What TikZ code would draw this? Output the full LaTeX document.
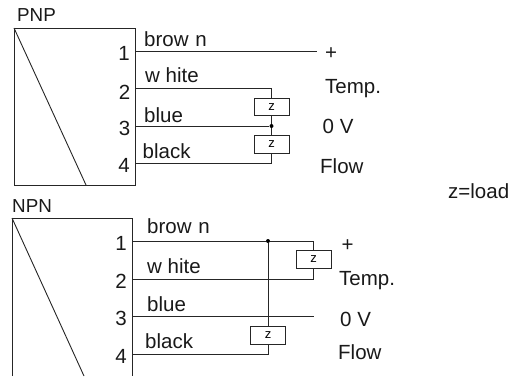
\documentclass[tikz,border=0pt]{standalone}
\usepackage{fontspec}
\setmainfont{Liberation Sans}
\tikzset{
  wire/.style={draw=black!85,line width=0.9pt},
  load/.style={draw=black!85,fill=white,line width=0.9pt,rectangle,minimum width=35pt,minimum height=17.5pt,inner sep=0pt,font=\fontsize{13}{13}\selectfont},
  lab/.style={anchor=west,inner sep=0pt,font=\fontsize{20.5}{20.5}\selectfont,text=black!90},
  title/.style={anchor=west,inner sep=0pt,font=\fontsize{18.8}{18.8}\selectfont,text=black!90},
  pin/.style={anchor=east,inner sep=0pt,font=\fontsize{20.5}{20.5}\selectfont,text=black!90},
  dot/.style={circle,fill=black,inner sep=0pt,minimum size=4pt},
}
\begin{document}
\begin{tikzpicture}[x=1pt,y=-1pt]
\useasboundingbox (0,0) rectangle (512,376);
% PNP
\coordinate (a1) at (14,28); \coordinate (a2) at (135,28); \coordinate (a3) at (135,185); \coordinate (a4) at (14,185); \coordinate (a5) at (86,185);
\draw[wire] (a1) -- (a2) -- (a3) -- (a4) -- cycle;
\draw[wire] (a1) -- (a5);
\node[title] (pnpt) at (17,15) {PNP};
\coordinate (p1) at (135,51); \coordinate (p2) at (135,88.5); \coordinate (p3) at (135,126); \coordinate (p4) at (135,163.5);
\coordinate (p1e) at (317,51); \coordinate (p2e) at (271.5,88.5); \coordinate (p4e) at (271.5,163.5);
\node[dot] (pd) at (271.5,126) {};
\node[load] (pz1) at (271.5,107) {z};
\node[load] (pz2) at (271.5,144.5) {z};
\draw[wire] (p1) -- (p1e);
\draw[wire] (p2) -- (p2e) -- (pz1.north);
\draw[wire] (pz1.south) -- (pd) -- (pz2.north);
\draw[wire] (p3) -- (pd);
\draw[wire] (pz2.south) -- (p4e) -- (p4);
\node[pin] (pn1) at (130,53) {1};
\node[pin] (pn2) at (130.5,92) {2};
\node[pin] (pn3) at (130.5,128) {3};
\node[pin] (pn4) at (130,165) {4};
\node[lab] (pl1) at (144,39) {brow\kern1pt\ n};
\node[lab] (pl2) at (145,75) {w hite};
\node[lab] (pl3) at (144,115) {blue};
\node[lab] (pl4) at (142.5,151) {black};
\node[lab] (pplus) at (325,54) {+};
\node[lab] (ptemp) at (325,89) {Temp.};
\node[lab] (p0v) at (322.5,126) {0 V};
\node[lab] (pflow) at (320,166) {Flow};
\node[lab] (zl) at (448,191) {z=load};
% NPN
\coordinate (b1) at (12,218); \coordinate (b2) at (132,218); \coordinate (b3) at (132,376); \coordinate (b4) at (12,376); \coordinate (b5) at (84,376);
\draw[wire] (b4) -- (b1) -- (b2) -- (b3);
\draw[wire] (b1) -- (b5);
\node[title] (npnt) at (12,206) {NPN};
\coordinate (n1) at (132,241); \coordinate (n2) at (132,279); \coordinate (n3) at (132,316.5); \coordinate (n4) at (132,354);
\coordinate (n1e) at (313.7,241); \coordinate (n2e) at (313.7,279); \coordinate (n3e) at (314,316.5); \coordinate (n4e) at (268,354);
\node[dot] (nd) at (268,241) {};
\node[load] (nz1) at (313.7,259.5) {z};
\node[load] (nz2) at (268,335.5) {z};
\draw[wire] (n1) -- (nd) -- (n1e) -- (nz1.north);
\draw[wire] (nz1.south) -- (n2e) -- (n2);
\draw[wire] (n3) -- (n3e);
\draw[wire] (nd) -- (nz2.north);
\draw[wire] (nz2.south) -- (n4e) -- (n4);
\node[pin] (nn1) at (127,243) {1};
\node[pin] (nn2) at (127,281) {2};
\node[pin] (nn3) at (127,318) {3};
\node[pin] (nn4) at (127,356) {4};
\node[lab] (nl1) at (147,226) {brow\kern1pt\ n};
\node[lab] (nl2) at (147,266) {w hite};
\node[lab] (nl3) at (147,304) {blue};
\node[lab] (nl4) at (145,341) {black};
\node[lab] (nplus) at (341.5,245.5) {+};
\node[lab] (ntemp) at (339,281) {Temp.};
\node[lab] (n0v) at (340,319) {0 V};
\node[lab] (nflow) at (338,352) {Flow};
\end{tikzpicture}
\end{document}
